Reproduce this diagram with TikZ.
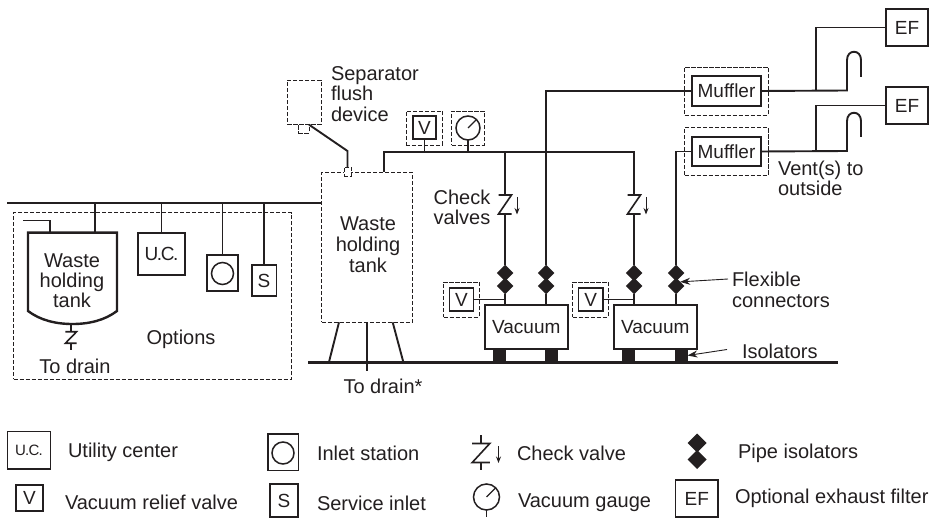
\documentclass[tikz,border=0pt]{standalone}
\usepackage{fontspec}
\setmainfont{Liberation Sans}
\usetikzlibrary{shapes.geometric,arrows.meta}
\definecolor{ink}{HTML}{231F20}
\tikzset{
  pipe/.style={draw=ink,line width=1.9pt},
  thinpipe/.style={draw=ink,line width=1.4pt},
  box/.style={draw=ink,line width=1.5pt,rectangle,inner sep=0pt,outer sep=0pt,text=ink,font=\fontsize{19}{19}\selectfont},
  heavybox/.style={box,line width=2.6pt},
  dashbox/.style={draw=ink,line width=.8pt,dash pattern=on 4.2pt off 1.8pt,rectangle,inner sep=0pt,outer sep=0pt},
  lbl/.style={text=ink,inner sep=0pt,outer sep=0pt,font=\fontsize{20}{20.5}\selectfont,align=center},
  leg/.style={lbl,anchor=west},
  iso/.style={diamond,fill=ink,draw=none,inner sep=0pt,outer sep=0pt,aspect=1,minimum width=16.5pt,minimum height=16.5pt},
  isolarge/.style={iso,minimum width=19pt,minimum height=19pt},
  foot/.style={rectangle,fill=ink,draw=none,inner sep=0pt,outer sep=0pt,minimum width=13pt,minimum height=13pt},
  ptr/.style={draw=ink,line width=.9pt,-{Stealth[length=10pt,width=7pt]}},
  smallarrow/.style={draw=ink,line width=1pt,-{Stealth[length=6.5pt,width=5pt]}},
  gaugering/.style={circle,draw=ink,line width=1.5pt,inner sep=0pt,outer sep=0pt},
  checkvalve/.pic={
    \draw[draw=ink,line width=1.6pt] (-6.5,-9.5) -- (6.5,-9.5) -- (-6.5,9.5) -- (6.5,9.5);
  }
}
\begin{document}
\begin{tikzpicture}[x=1pt,y=-1pt]
\useasboundingbox (0,0) rectangle (931,518);
% --- coordinates of free ends and junctions
\coordinate (mainL) at (7,203);
\coordinate (mainR) at (321.5,203);
\coordinate (floorL) at (308,362);
\coordinate (floorR) at (838,362);
\coordinate (hdrR) at (634,152);
% --- options group
\node[dashbox,minimum width=278pt,minimum height=166.5pt] (options) at (152.5,296) {};
\node[box,minimum width=47pt,minimum height=42pt] (uc) at (161.5,254) {U\kern-1.6pt.\kern-1.2pt C\kern-1.6pt.};
\node[box,minimum width=31pt,minimum height=36pt] (inlet) at (222.5,273) {};
\node[gaugering,minimum size=22pt] (inletc) at (222.5,273.5) {};
\node[box,minimum width=24.5pt,minimum height=31pt] (svc) at (264,280.5) {S};
\draw[ink,line width=2.4pt,fill=white] (28,232.7) -- (28,311) .. controls (40,320) and (55,324) .. (72.5,324) .. controls (90,324) and (105,320) .. (117,311) -- (117,232.7) -- cycle;
\coordinate (tankTop1) at (50,232.7);
\coordinate (tankTop2) at (95,232.7);
\coordinate (tankBot) at (71,324);
\coordinate (tankVent) at (23,220.7);
\node[lbl] (tankA) at (72,280.5) {Waste\\[-.6pt]holding\\[-.6pt]tank};
\node[lbl] (opt) at (181,339) {Options};
\node[lbl] (drainA) at (75,366) {To drain};
\draw[pipe] (mainL) -- (mainR);
\draw[thinpipe] (tankVent) -| (tankTop1);
\draw[pipe] (tankTop2) -- (tankTop2 |- mainL);
\draw[pipe] (uc.north) -- (uc.north |- mainL);
\draw[pipe] (inlet.north) -- (inlet.north |- mainL);
\draw[pipe] (svc.north) -- (svc.north |- mainL);
\pic[xscale=.85,yscale=.6] (cvA) at (71,337.5) {checkvalve};
\draw[thinpipe] (tankBot) -- (71,332);
\draw[thinpipe] (71,343) -- (71,350);
% --- main tank
\node[dashbox,minimum width=90.5pt,minimum height=150pt] (tank) at (367,247.3) {};
\node[lbl] (tankB) at (368,244.5) {Waste\\[.6pt]holding\\[.6pt]tank};
\node[dashbox,fill=white,minimum width=7pt,minimum height=9pt] (flushb) at (347.5,171.5) {};
\node[dashbox,minimum width=33.5pt,minimum height=44.7pt] (sep) at (304.2,102.3) {};
\node[dashbox,minimum width=10.5pt,minimum height=8.3pt] (sepb) at (303.7,128.8) {};
\node[lbl,align=left,anchor=west] (septxt) at (331,94) {Separator\\flush\\device};
\coordinate (sepk) at (347.5,151);
\draw[pipe] (sepb.north east) -- (sepk) -- (flushb.north);
\coordinate (legtopA) at (339,322.3);
\coordinate (legbotA) at (329,362);
\coordinate (legtopC) at (392.7,322.3);
\coordinate (legbotC) at (403.3,362);
\coordinate (drainEnd) at (367,370.7);
\draw[pipe] (legtopA) -- (legbotA);
\draw[thinpipe] (tank.south) -- (drainEnd);
\draw[pipe] (legtopC) -- (legbotC);
\node[lbl] (drainB) at (383,386) {To drain*};
% --- header instruments
\node[dashbox,minimum width=36.5pt,minimum height=34pt] (vTd) at (424.2,128) {};
\node[heavybox,minimum width=23pt,minimum height=23pt] (vT) at (424.5,127.5) {V};
\node[dashbox,minimum width=32.5pt,minimum height=34pt] (gTd) at (467.8,128) {};
\node[gaugering,minimum size=24pt] (gT) at (468,128) {};
\draw[thinpipe] (gT.center) -- (gT.45);
% --- vacuum units
\node[box,line width=2pt,minimum width=83.5pt,minimum height=43pt] (vac1) at (526.3,327) {Vacuum};
\node[box,line width=2pt,minimum width=83.5pt,minimum height=43pt] (vac2) at (655.3,327) {Vacuum};
\node[foot] (f1) at (499.5,355.5) {};
\node[foot] (f2) at (551.5,355.5) {};
\node[foot] (f3) at (628.5,355.5) {};
\node[foot] (f4) at (681,355.5) {};
\node[dashbox,minimum width=35.5pt,minimum height=35pt] (v1d) at (461.3,299.5) {};
\node[box,line width=1.8pt,minimum width=24pt,minimum height=23pt] (v1) at (461.5,299.5) {V};
\node[dashbox,minimum width=35.5pt,minimum height=35pt] (v2d) at (590.3,299.5) {};
\node[box,line width=1.8pt,minimum width=24.5pt,minimum height=23pt] (v2) at (590.8,299.5) {V};
\node[iso] (d1a) at (505,273) {};
\node[iso] (d1b) at (505,286) {};
\node[iso] (d2a) at (546,273) {};
\node[iso] (d2b) at (546,286) {};
\node[iso] (d3a) at (634,273) {};
\node[iso] (d3b) at (634,286) {};
\node[iso] (d4a) at (676,273) {};
\node[iso] (d4b) at (676,286) {};
\draw[pipe] (d1b.south) -- (d1b.south |- vac1.north);
\draw[pipe] (d2b.south) -- (d2b.south |- vac1.north);
\draw[pipe] (d3b.south) -- (d3b.south |- vac2.north);
\draw[pipe] (d4b.south) -- (d4b.south |- vac2.north);
\draw[thinpipe] (v1.east) -- (v1.east -| d1b);
\draw[thinpipe] (v2.east) -- (v2.east -| d3b);
% --- mufflers and filters
\node[dashbox,minimum width=83.5pt,minimum height=48pt] (m1d) at (726.3,91) {};
\node[heavybox,minimum width=69pt,minimum height=30pt] (m1) at (726.5,91) {Muffler};
\node[dashbox,minimum width=83.5pt,minimum height=47.5pt] (m2d) at (726.3,151.3) {};
\node[heavybox,minimum width=69pt,minimum height=29pt] (m2) at (726.5,151.5) {Muffler};
\node[box,minimum width=42pt,minimum height=37pt] (ef1) at (907,27.5) {EF};
\node[box,minimum width=42pt,minimum height=37pt] (ef2) at (907,105.5) {EF};
\coordinate (j1) at (816,90.5);
\coordinate (j2) at (816,151);
\coordinate (u1) at (847,90.5);
\coordinate (u2) at (847,151);
\draw[pipe] (d2a.north) |- (m1.west);
\draw[pipe] (d4a.north) |- (m2.west);
\draw[pipe] (m1.east) -- (u1) -- (847,60) .. controls (847,49) and (861,49) .. (861,60) -- (861,77);
\draw[pipe] (m2.east) -- (u2) -- (847,121) .. controls (847,110) and (861,110) .. (861,121) -- (861,137);
\draw[pipe] (j1) |- (ef1.west);
\draw[pipe] (j2) |- (ef2.west);
% --- header
\draw[pipe] (384,172) -- (384,152) -- (hdrR) -- (d3a.north);
\draw[pipe] (505,152) -- (d1a.north);
\draw[pipe] (vT.south) -- (vT.south |- hdrR);
\draw[pipe] (gT.south) -- (gT.south |- hdrR);
\fill[white] (498,196) rectangle (524,213);
\fill[white] (627,196) rectangle (653,213);
\pic (cvB) at (505,204.5) {checkvalve};
\pic (cvC) at (634,204.5) {checkvalve};
\coordinate (arB1) at (517,197); \coordinate (arB2) at (517,214.5);
\coordinate (arC1) at (646,197); \coordinate (arC2) at (646,214.5);
\draw[smallarrow] (arB1) -- (arB2);
\draw[smallarrow] (arC1) -- (arC2);
% --- floor
\draw[ink,line width=3pt] (floorL) -- (floorR);
% --- labels
\node[lbl] (chk) at (462,207.5) {Check\\[-.4pt]valves};
\node[lbl,align=left,anchor=west] (vent) at (778,178.5) {Vent(s) to\\outside};
\node[lbl,align=left,anchor=west] (flex) at (732,290) {Flexible\\connectors};
\node[leg] (isol) at (742,351) {Isolators};
\draw[ptr] (flex.west |- 0,279) ++(-4,0) coordinate (flexp) -- (d4b.north east);
\draw[ptr] (isol.west) ++(-15,-1.5) coordinate (isop) -- (f4.east);
% --- legend
\node[box,font=\fontsize{15}{15}\selectfont,minimum width=43pt,minimum height=37.5pt] (lgUC) at (29,450.2) {U\kern-.8pt.\kern-.6pt C\kern-.8pt.};
\node[leg] (tUC) at (68,452) {Utility center};
\node[box,minimum width=27pt,minimum height=26pt] (lgV) at (29.5,498) {V};
\node[leg] (tV) at (65,502) {Vacuum relief valve};
\node[box,minimum width=30.5pt,minimum height=36.5pt] (lgI) at (283,452.2) {};
\node[gaugering,minimum size=22pt] (lgIc) at (283,453) {};
\node[leg] (tI) at (317,453) {Inlet station};
\node[box,minimum width=28pt,minimum height=33pt] (lgS) at (284,500.5) {S};
\node[leg] (tS) at (317,503) {Service inlet};
\pic[xscale=1.35] (lgCV) at (481,453) {checkvalve};
\coordinate (lgCa) at (481,435); \coordinate (lgCb) at (481,470);
\draw[thinpipe] (lgCa) -- (481,443.5);
\draw[thinpipe] (481,462.5) -- (lgCb);
\draw[smallarrow] (498.5,446) -- (498.5,463);
\node[leg] (tC) at (517,453) {Check valve};
\node[gaugering,minimum size=26pt] (lgG) at (486.5,497) {};
\draw[thinpipe] (lgG.center) -- (lgG.45);
\coordinate (lgGe) at (486.5,517);
\draw[thinpipe] (lgG.south) -- (lgGe);
\node[leg] (tG) at (518,503) {Vacuum gauge};
\node[isolarge] (lgDa) at (697,443) {};
\node[isolarge] (lgDb) at (697,459.5) {};
\node[leg] (tD) at (738,453) {Pipe isolators};
\node[box,minimum width=42.5pt,minimum height=37pt] (lgEF) at (696.8,498.5) {EF};
\node[leg] (tEF) at (735,498) {Optional exhaust filter};
\end{tikzpicture}
\end{document}
